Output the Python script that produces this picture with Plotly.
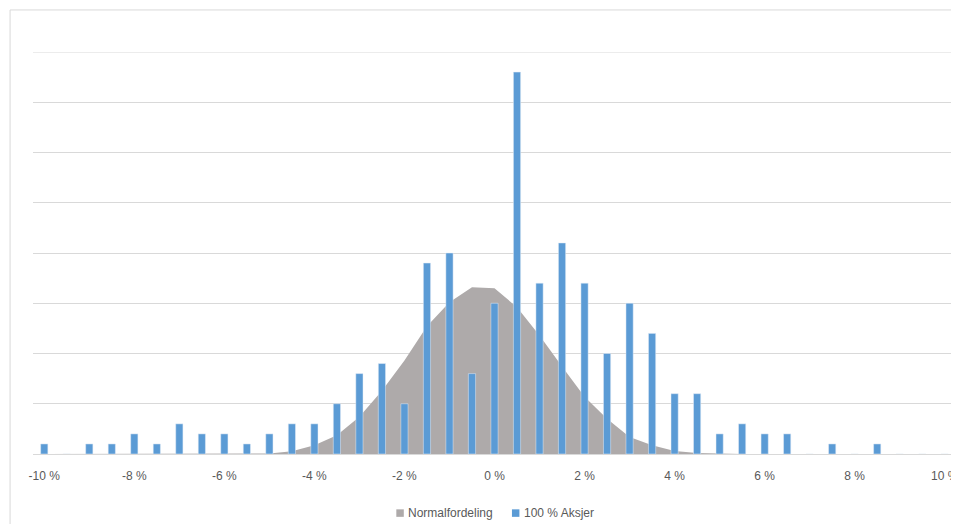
import plotly.graph_objects as go

categories = [-10, -9.5, -9, -8.5, -8, -7.5, -7, -6.5, -6, -5.5, -5, -4.5, -4, -3.5, -3, -2.5, -2, -1.5, -1, -0.5,
              0, 0.5, 1, 1.5, 2, 2.5, 3, 3.5, 4, 4.5, 5, 5.5, 6, 6.5, 7, 7.5, 8, 8.5, 9, 9.5, 10]

aksjer = [1, 0, 1, 1, 2, 1, 3, 2, 2, 1, 2, 3, 3, 5, 8, 9, 5, 19, 20, 8,
          15, 38, 17, 21, 17, 10, 15, 12, 6, 6, 2, 3, 2, 2, 0, 1, 0, 1, 0, 0, 0]

normal = [0, 0, 0, 0, 0, 0, 0, 0, 0, 0, 0.05, 0.27, 0.87, 1.86, 3.7, 6.3, 9.3, 12.7, 15.1, 16.6,
          16.5, 14.6, 11.8, 8.7, 5.7, 3.5, 1.7, 0.87, 0.3, 0.1, 0.02, 0, 0, 0, 0, 0, 0, 0, 0, 0, 0]

tick_vals = [-10, -8, -6, -4, -2, 0, 2, 4, 6, 8, 10]
tick_text = ["-10 %", "-8 %", "-6 %", "-4 %", "-2 %", "0 %", "2 %", "4 %", "6 %", "8 %", "10 %"]

series_names = ["Normalfordeling", "100 % Aksjer"]

GRAY = "#AEAAAA"
BLUE = "#5B9BD5"
TXT = "#595959"
GRID = "#D9D9D9"

# page has 8px body margin; figure coordinates = page coordinates - 8
W, H = 951, 516
L, T = 25, 44
plot_w = W - L
plot_bottom = 445.7
B = H - plot_bottom
plot_h = plot_bottom - T


def px(page_x):
    return (page_x - 8 - L) / plot_w


def py(page_y):
    return (plot_bottom - (page_y - 8)) / plot_h


fig = go.Figure()
fig.add_trace(go.Scatter(
    x=categories, y=normal, name=series_names[0], mode="lines",
    fill="tozeroy", fillcolor=GRAY, line=dict(color=GRAY, width=0),
    hoverinfo="skip", showlegend=False, xaxis="x", yaxis="y"))
fig.add_trace(go.Bar(
    x=categories, y=aksjer, name=series_names[1], marker_color=BLUE,
    width=0.16, showlegend=False, xaxis="x", yaxis="y2"))

shapes = [
    dict(type="rect", xref="paper", yref="paper",
         x0=px(10), x1=px(975), y0=py(545), y1=py(10),
         line=dict(color=GRID, width=1), fillcolor="rgba(0,0,0,0)", layer="below"),
    dict(type="line", xref="paper", yref="y", x0=0, x1=1, y0=40, y1=40,
         line=dict(color=GRID, width=1), layer="below"),
    # legend swatches
    dict(type="rect", xref="paper", yref="paper",
         x0=px(397.5), x1=px(405), y0=py(516.5), y1=py(509),
         line=dict(width=0), fillcolor=GRAY),
    dict(type="rect", xref="paper", yref="paper",
         x0=px(513.5), x1=px(521), y0=py(516.5), y1=py(509),
         line=dict(width=0), fillcolor=BLUE),
]

annotations = [
    dict(text=series_names[0], xref="paper", yref="paper", x=px(407), y=py(513),
         xanchor="left", yanchor="middle", showarrow=False,
         font=dict(size=12, color=TXT)),
    dict(text=series_names[1], xref="paper", yref="paper", x=px(523.5), y=py(513),
         xanchor="left", yanchor="middle", showarrow=False,
         font=dict(size=12, color=TXT)),
]

fig.update_layout(
    width=W, height=H,
    margin=dict(l=L, r=0, t=T, b=B),
    paper_bgcolor="white", plot_bgcolor="white",
    font=dict(family="Liberation Sans, Arial, sans-serif", size=12, color=TXT),
    showlegend=False,
    xaxis=dict(range=[-10.25, 10.25], tickvals=tick_vals, ticktext=tick_text,
               showgrid=False, zeroline=False, showline=True, linecolor=GRID, linewidth=1,
               ticks="outside", ticklen=11, tickcolor="rgba(0,0,0,0)",
               ticklabeloverflow="allow",
               tickfont=dict(size=12, color=TXT)),
    yaxis=dict(range=[0, 40], dtick=5, showticklabels=False, showgrid=True,
               gridcolor=GRID, gridwidth=1, zeroline=False),
    yaxis2=dict(range=[0, 40], overlaying="y", showticklabels=False, showgrid=False,
                zeroline=False, visible=False),
    shapes=shapes,
    annotations=annotations,
)

fig.write_html("out.html")
